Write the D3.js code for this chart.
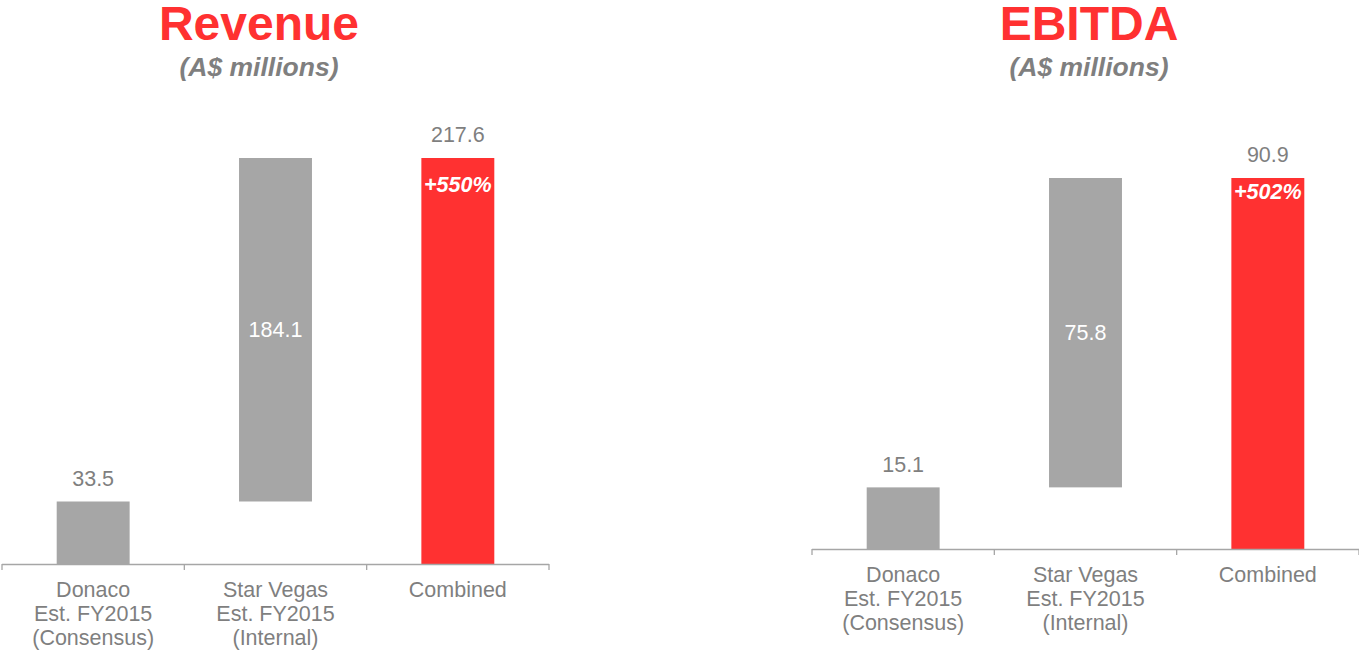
<!DOCTYPE html>
<html><head><meta charset="utf-8">
<script src="https://cdn.jsdelivr.net/npm/d3@7"></script>
<style>
body{margin:0;background:#fff;}
svg{display:block;font-family:"Liberation Sans",Arial,sans-serif;}
</style></head>
<body><svg id="c" width="1359" height="651"></svg>
<script>
const categories = [["Donaco","Est. FY2015","(Consensus)"],["Star Vegas","Est. FY2015","(Internal)"],["Combined"]];
const revenueValues = [33.5, 184.1, 217.6];
const ebitdaValues = [15.1, 75.8, 90.9];
const revenueGrowth = "+550%";
const ebitdaGrowth = "+502%";
const titles = ["Revenue","EBITDA"];
const subtitle = "(A$ millions)";

const GRAY = "#a6a6a6", RED = "#ff3131", TXT = "#7f7f7f";
const svg = d3.select("#c");

function drawPanel(cfg){
  const g = svg.append("g");
  const x = d3.scaleBand().domain(d3.range(categories.length))
    .range([cfg.x0, cfg.x1]).paddingInner(0.6).paddingOuter(0.3);
  const y = d3.scaleLinear().domain([0, cfg.values[2]]).range([cfg.y0, cfg.yTop]);
  const v = cfg.values;
  const bars = [
    {i:0, lo:0, hi:v[0], fill:GRAY},
    {i:1, lo:v[0], hi:v[0]+v[1], fill:GRAY},
    {i:2, lo:0, hi:v[2], fill:RED}
  ];
  g.selectAll("rect.bar").data(bars).join("rect")
    .attr("x", d=>x(d.i)).attr("width", x.bandwidth())
    .attr("y", d=>y(d.hi)).attr("height", d=>y(d.lo)-y(d.hi))
    .attr("fill", d=>d.fill);

  // axis
  const axis = d3.axisBottom(x).tickSize(0).tickFormat("");
  const ag = g.append("g").attr("transform", `translate(0,${cfg.y0})`).call(axis);
  ag.select(".domain").remove();
  g.append("line").attr("x1", cfg.x0).attr("x2", cfg.x1).attr("y1", cfg.y0+0.5).attr("y2", cfg.y0+0.5)
    .attr("stroke", GRAY).attr("stroke-width", 1.3);
  const step = x.step();
  const tickXs = d3.range(categories.length+1).map(k => cfg.x0 + k*step);
  g.selectAll("line.tk").data(tickXs).join("line")
    .attr("x1", d=>d).attr("x2", d=>d).attr("y1", cfg.y0).attr("y2", cfg.y0+6)
    .attr("stroke", GRAY).attr("stroke-width", 1.3);

  const FS = 21.5;
  // category labels
  categories.forEach((lines, i) => {
    const t = g.append("text").attr("text-anchor","middle").attr("fill", TXT)
      .attr("font-size", FS).attr("x", x(i)+x.bandwidth()/2).attr("y", cfg.y0+33);
    lines.forEach((ln, k) => t.append("tspan").attr("x", x(i)+x.bandwidth()/2).attr("dy", k===0?0:24).text(ln));
  });

  const cx = i => x(i)+x.bandwidth()/2;
  // value labels
  g.append("text").attr("text-anchor","middle").attr("fill",TXT).attr("font-size",FS)
    .attr("x", cx(0)).attr("y", y(v[0])-15).text(v[0].toFixed(1));
  g.append("text").attr("text-anchor","middle").attr("fill","#fff").attr("font-size",FS)
    .attr("x", cx(1)).attr("y", (y(v[0])+y(v[0]+v[1]))/2+7).text(v[1].toFixed(1));
  g.append("text").attr("text-anchor","middle").attr("fill",TXT).attr("font-size",FS)
    .attr("x", cx(2)).attr("y", y(v[2])-16).text(v[2].toFixed(1));
  g.append("text").attr("text-anchor","middle").attr("fill","#fff").attr("font-size",FS)
    .attr("font-weight","bold").attr("font-style","italic")
    .attr("x", cx(2)).attr("y", y(v[2])+cfg.gOff).text(cfg.growth);

  // titles
  g.append("text").attr("text-anchor","middle").attr("fill",RED).attr("font-size",48).attr("font-weight","bold")
    .attr("x", cfg.tx).attr("y", 40).text(cfg.title);
  g.append("text").attr("text-anchor","middle").attr("fill",TXT).attr("font-size",26.5).attr("font-weight","bold")
    .attr("font-style","italic").attr("x", cfg.tx).attr("y", 76).text(subtitle);
}

drawPanel({x0:2, x1:549, y0:564, yTop:158, values:revenueValues, growth:revenueGrowth, title:titles[0], tx:259, gOff:34});
drawPanel({x0:812, x1:1359, y0:549, yTop:178, values:ebitdaValues, growth:ebitdaGrowth, title:titles[1], tx:1089, gOff:21});
</script>
</body></html>
